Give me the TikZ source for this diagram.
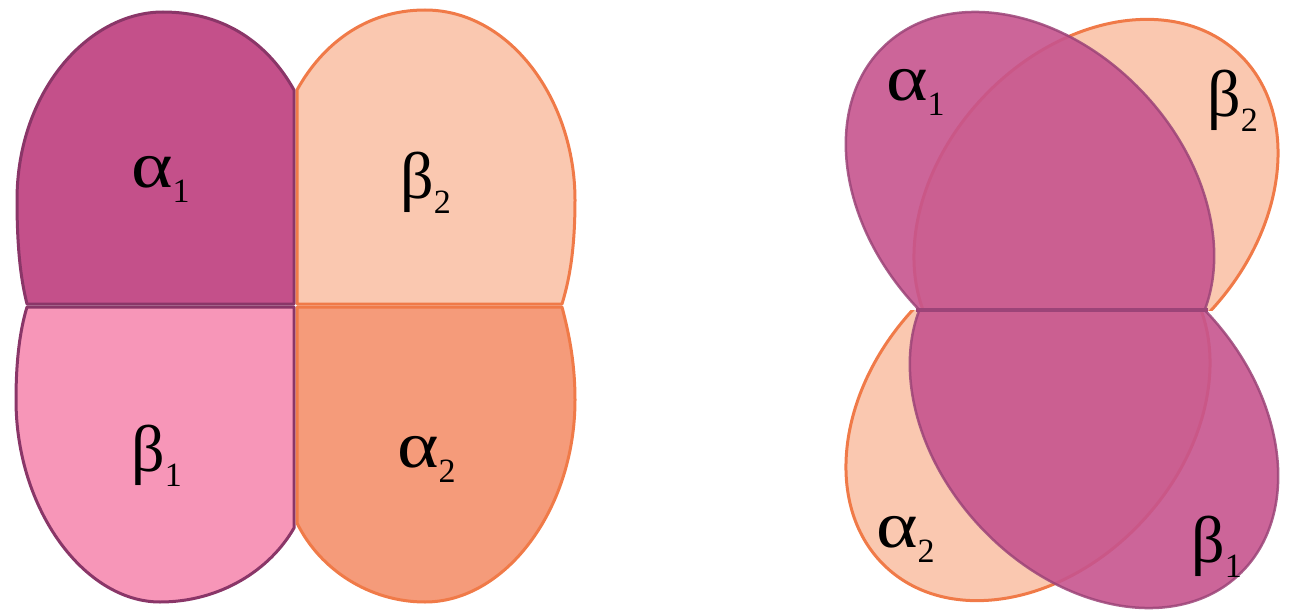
\documentclass[tikz,border=0pt]{standalone}
\usepackage{graphicx}
\usepackage{fontspec}
\setmainfont{Liberation Serif}
\definecolor{fillAone}{HTML}{C4508A}
\definecolor{fillBone}{HTML}{F796B8}
\definecolor{fillBtwo}{HTML}{FAC8B0}
\definecolor{fillAtwo}{HTML}{F59B7A}
\definecolor{linePur}{HTML}{8A3668}
\definecolor{lineOra}{HTML}{F07A48}
\definecolor{magFill}{HTML}{C6548E}
\definecolor{magLine}{HTML}{9C4478}
\newcommand{\glab}[2]{\fontsize{66}{66}\selectfont #1\raisebox{-15pt}{\fontsize{34}{34}\selectfont #2}}
\newcommand{\galpha}{\scalebox{1.2}[1]{α}}
\tikzset{
  purpiece/.style={draw=linePur, line width=3pt, line join=round},
  orapiece/.style={draw=lineOra, line width=3pt, line join=round},
  oraell/.style={fill=fillBtwo, draw=lineOra, line width=3pt},
  magell/.style={fill=magFill, fill opacity=0.9, draw=magLine, draw opacity=0.85, line width=2.5pt},
  lab/.style={anchor=base west, inner sep=0pt, text=black}
}
\begin{document}
\begin{tikzpicture}[x=1pt,y=-1pt]
\useasboundingbox (0,0) rectangle (1294,610);
% ---------- left figure ----------
\path[purpiece, fill=fillAone] (294,304) -- (294,90) .. controls (269,45) and (226,12) .. (163,12)
  .. controls (88,12) and (17,92) .. (17,200) .. controls (17,255) and (22,284) .. (27,304) -- cycle;
\path[orapiece, fill=fillBtwo] (297,304) -- (297,90) .. controls (322,45) and (365,10) .. (425,10)
  .. controls (510,10) and (575,100) .. (575,200) .. controls (575,255) and (568,284) .. (562,304) -- cycle;
\path[purpiece, fill=fillBone] (294,307) -- (27,307) .. controls (20,330) and (16,360) .. (16,400)
  .. controls (16,510) and (85,602) .. (160,602) .. controls (220,602) and (270,570) .. (294,528) -- cycle;
\path[orapiece, fill=fillAtwo] (297,307) -- (562,307) .. controls (568,330) and (575,360) .. (575,400)
  .. controls (575,510) and (505,602) .. (425,602) .. controls (370,602) and (320,570) .. (297,523) -- cycle;
\node[lab] (la1) at (131,187) {\glab{\galpha}{1}};
\node[lab] (lb2) at (400,198) {\glab{β}{2}};
\node[lab] (lb1) at (131,471) {\glab{β}{1}};
\node[lab] (la2) at (397,467) {\glab{\galpha}{2}};
% ---------- right figure ----------
\begin{scope}
  \clip (800,-5) rectangle (1294,310);
  \path[oraell] [rotate around={47:(1096,205)}] (1096,205) ellipse [x radius=208, y radius=156];
  \path[magell] [rotate around={-47:(1030,200)}] (1030,200) ellipse [x radius=212, y radius=156];
\end{scope}
\begin{scope}
  \clip (800,310) rectangle (1294,615);
  \path[oraell] [rotate around={47:(1028,415)}] (1028,415) ellipse [x radius=208, y radius=156];
  \path[magell] [rotate around={-47:(1094,420)}] (1094,420) ellipse [x radius=212, y radius=156];
\end{scope}
\coordinate (ml) at (916,310);
\coordinate (mr) at (1208,310);
\draw[magLine, line width=3.5pt] (ml) -- (mr);
\node[lab] (ra1) at (886,100) {\glab{\galpha}{1}};
\node[lab] (rb2) at (1207,117) {\glab{β}{2}};
\node[lab] (ra2) at (876,547) {\glab{\galpha}{2}};
\node[lab] (rb1) at (1191,562) {\glab{β}{1}};
\end{tikzpicture}
\end{document}
